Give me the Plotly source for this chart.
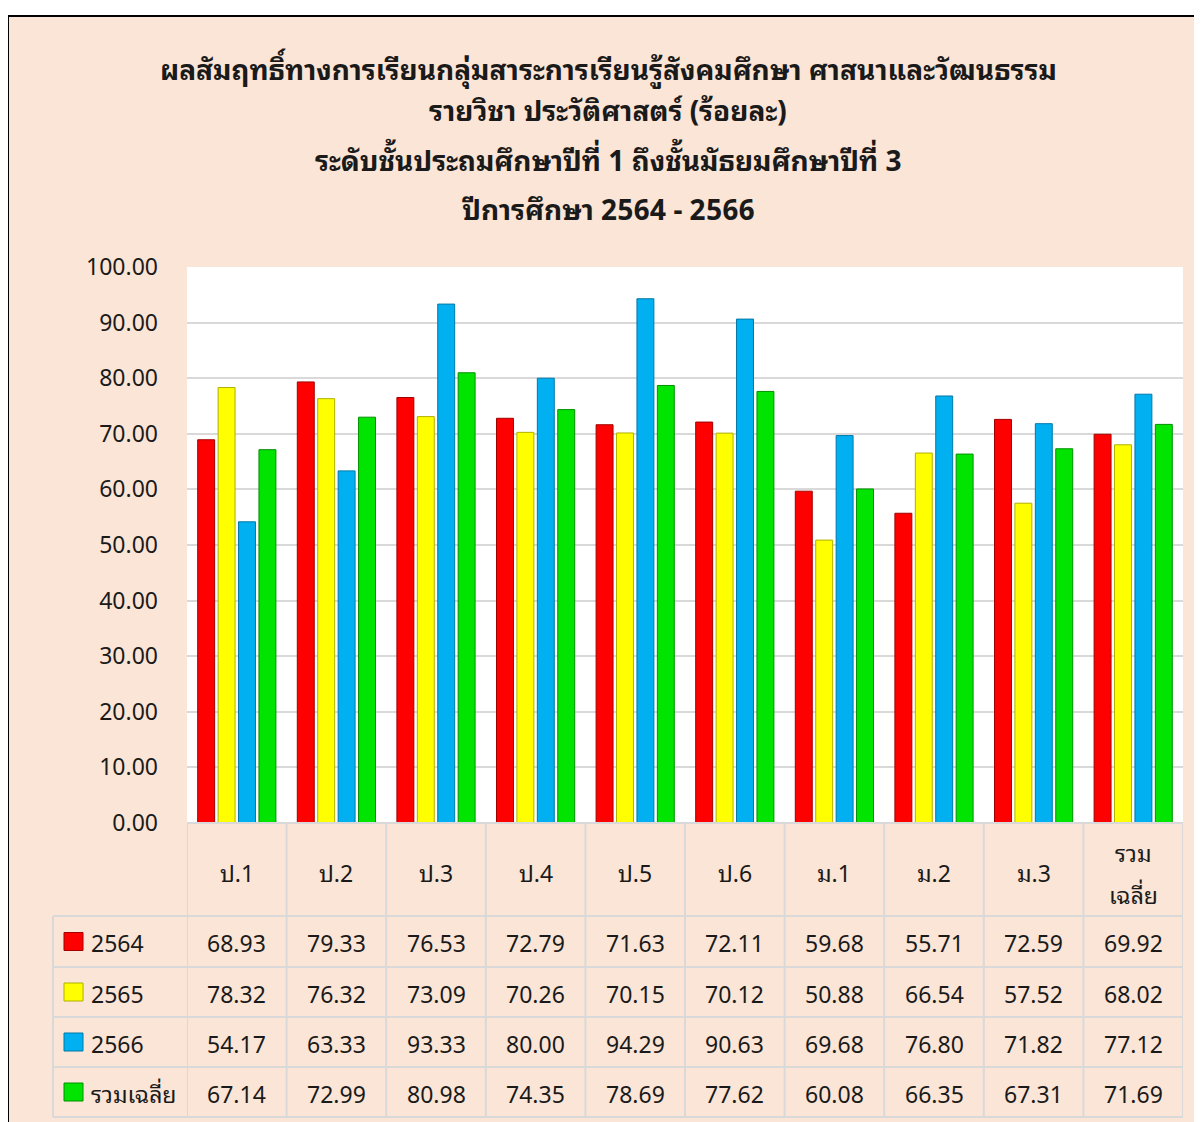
import plotly.graph_objects as go

# --- data ---
categories = ["ป.1", "ป.2", "ป.3", "ป.4", "ป.5", "ป.6", "ม.1", "ม.2", "ม.3", "รวม<br>เฉลี่ย"]
series_names = ["2564", "2565", "2566", "รวมเฉลี่ย"]
y2564 = [68.93, 79.33, 76.53, 72.79, 71.63, 72.11, 59.68, 55.71, 72.59, 69.92]
y2565 = [78.32, 76.32, 73.09, 70.26, 70.15, 70.12, 50.88, 66.54, 57.52, 68.02]
y2566 = [54.17, 63.33, 93.33, 80.00, 94.29, 90.63, 69.68, 76.80, 71.82, 77.12]
y_avg = [67.14, 72.99, 80.98, 74.35, 78.69, 77.62, 60.08, 66.35, 67.31, 71.69]
title_lines = [
    "ผลสัมฤทธิ์ทางการเรียนกลุ่มสาระการเรียนรู้สังคมศึกษา ศาสนาและวัฒนธรรม",
    "รายวิชา ประวัติศาสตร์ (ร้อยละ)",
    "ระดับชั้นประถมศึกษาปีที่ 1 ถึงชั้นมัธยมศึกษาปีที่ 3",
    "ปีการศึกษา 2564 - 2566",
]

series = [y2564, y2565, y2566, y_avg]
colors = ["#FF0000", "#FFFF00", "#00B0F0", "#00E400"]
edges = ["#A00000", "#B0B000", "#0078A8", "#009000"]

W, H = 1202, 1122
OFF = 8  # page body margin: the figure starts at page pixel (8, 8)
L, R, T, B = 187, 1183, 267, 823  # plot area in page pixels
FONT = "Noto Sans Thai Looped, Noto Sans Thai, Tahoma, sans-serif"
GRID = "#D9D9D9"
PEACH = "#FBE5D6"
TXT = "#1a1a1a"


def xp(px):
    return (px - L) / (R - L)


def yp(py):
    return (B - py) / (B - T)


fig = go.Figure()
x_idx = list(range(len(categories)))
for name, vals, c, e in zip(series_names, series, colors, edges):
    fig.add_trace(go.Bar(
        x=x_idx, y=vals, name=name,
        marker=dict(color=c, line=dict(color=e, width=1)),
        showlegend=False,
    ))

shapes = []
annotations = []

# title
for line, py in zip(title_lines, [67, 108, 158, 207]):
    annotations.append(dict(
        text="<b>" + line + "</b>", xref="paper", yref="paper",
        x=xp(608), y=yp(py), showarrow=False, xanchor="center", yanchor="middle",
        font=dict(size=28, color=TXT, family=FONT),
    ))

# data table grid
row_edges = [916, 967, 1017, 1067, 1117]
shapes.append(dict(type="line", xref="paper", yref="paper", x0=0, x1=1,
                   y0=yp(B), y1=yp(B), line=dict(color=GRID, width=2), layer="above"))
for py in row_edges:
    shapes.append(dict(type="line", xref="paper", yref="paper", x0=xp(53), x1=1,
                       y0=yp(py), y1=yp(py), line=dict(color=GRID, width=2), layer="above"))
for k in range(len(categories) + 1):
    shapes.append(dict(type="line", xref="x", yref="paper", x0=k - 0.5, x1=k - 0.5,
                       y0=yp(B), y1=yp(1117), line=dict(color=GRID, width=2), layer="above"))
shapes.append(dict(type="line", xref="paper", yref="paper", x0=xp(53), x1=xp(53),
                   y0=yp(916), y1=yp(1117), line=dict(color=GRID, width=2), layer="above"))

# header row (category labels)
for i, cat in enumerate(categories):
    parts = cat.split("<br>")
    ys = [872] if len(parts) == 1 else [851, 893]
    for part, py in zip(parts, ys):
        annotations.append(dict(
            text=part, xref="x", yref="paper", x=i, y=yp(py), showarrow=False,
            xanchor="center", yanchor="middle",
            font=dict(size=23, color=TXT, family=FONT),
        ))

# value rows with legend keys
row_centers = [941.5, 992, 1042, 1092]
for name, vals, c, e, py in zip(series_names, series, colors, edges, row_centers):
    shapes.append(dict(type="rect", xref="paper", yref="paper",
                       x0=xp(64), x1=xp(83), y0=yp(py - 9), y1=yp(py + 9),
                       fillcolor=c, line=dict(color=e, width=1), layer="above"))
    annotations.append(dict(
        text=name, xref="paper", yref="paper", x=xp(89), y=yp(py), showarrow=False,
        xanchor="left", yanchor="middle",
        font=dict(size=23, color=TXT, family=FONT),
    ))
    for i, v in enumerate(vals):
        annotations.append(dict(
            text=f"{v:.2f}", xref="x", yref="paper", x=i, y=yp(py), showarrow=False,
            xanchor="center", yanchor="middle",
            font=dict(size=23, color=TXT, family=FONT),
        ))

# outer frame: white strip outside the black border at top/left
shapes.append(dict(type="rect", xref="paper", yref="paper", x0=xp(-5), x1=xp(W + 20),
                   y0=yp(-5), y1=yp(15), fillcolor="white", line=dict(width=0), layer="above"))
shapes.append(dict(type="rect", xref="paper", yref="paper", x0=xp(-5), x1=xp(7),
                   y0=yp(-5), y1=yp(H + 20), fillcolor="white", line=dict(width=0), layer="above"))
shapes.append(dict(type="line", xref="paper", yref="paper", x0=xp(8), x1=xp(W + 20),
                   y0=yp(16), y1=yp(16), line=dict(color="black", width=2), layer="above"))
shapes.append(dict(type="line", xref="paper", yref="paper", x0=xp(8), x1=xp(8),
                   y0=yp(16), y1=yp(H + 20), line=dict(color="black", width=2), layer="above"))

fig.update_layout(
    width=W, height=H,
    margin=dict(l=L - OFF, r=W - (R - OFF), t=T - OFF, b=H - (B - OFF), pad=0),
    paper_bgcolor=PEACH, plot_bgcolor="white",
    barmode="group", bargap=0.18, bargroupgap=0.17,
    font=dict(family=FONT, size=23, color=TXT),
    shapes=shapes, annotations=annotations,
    xaxis=dict(range=[-0.5, len(categories) - 0.5], showticklabels=False, showgrid=False,
               zeroline=False, showline=False, ticks=""),
    yaxis=dict(range=[0, 100], dtick=10, tickformat=".2f", showgrid=True, gridcolor=GRID,
               gridwidth=1.5, zeroline=False, showline=False, ticks="",
               ticklabelstandoff=28, tickfont=dict(size=23, color=TXT, family=FONT)),
)

fig.write_html("out.html")
